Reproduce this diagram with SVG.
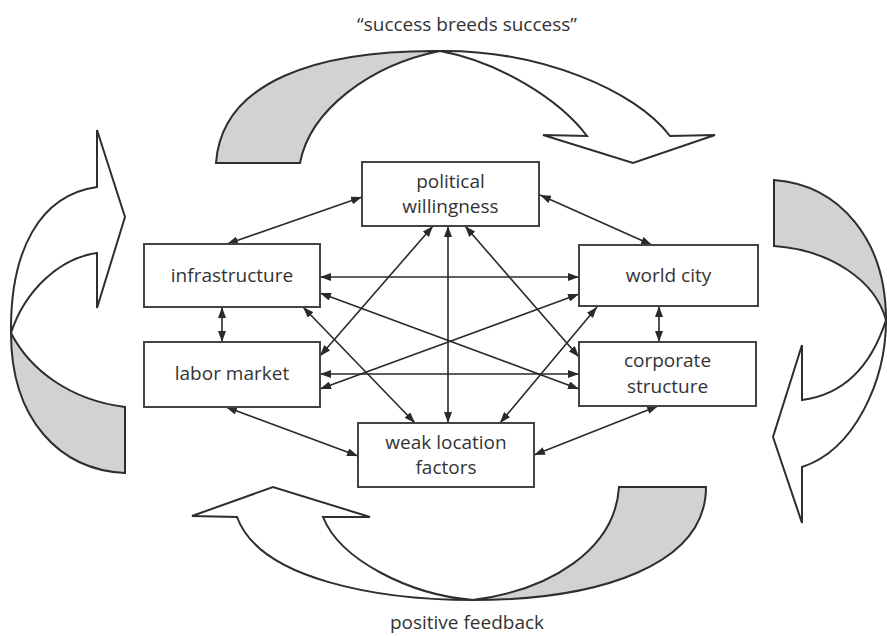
<svg xmlns="http://www.w3.org/2000/svg" width="887" height="636" viewBox="0 0 887 636">
  <style>
    .bg { fill: #ffffff; }
    .box { fill: #ffffff; stroke: #444444; stroke-width: 2; }
    .lbl { font-family: "Open Sans", "Liberation Sans", sans-serif; font-size: 19px; fill: #333333; text-anchor: middle; }
    .link { stroke: #2a2a2a; stroke-width: 1.6; fill: none; marker-start: url(#head); marker-end: url(#head); }
    .band-back { fill: #d2d2d2; stroke: #2e2e2e; stroke-width: 2; stroke-linejoin: miter; }
    .band-front { fill: #ffffff; stroke: #2e2e2e; stroke-width: 2; stroke-linejoin: miter; }
  </style>
  <defs>
    <marker id="head" markerUnits="userSpaceOnUse" markerWidth="11" markerHeight="8" refX="11" refY="4" orient="auto-start-reverse">
      <path d="M0,0 L11,4 L0,8 Z" fill="#2a2a2a"/>
    </marker>
  </defs>

  <rect class="bg" x="0" y="0" width="887" height="636"/>

  <!-- circular feedback arrows around the network -->
  <g id="cycle-top">
    <path class="band-back" d="M216,163 C222,80 320,50 440,51 C370,65 310,110 300,163 Z"/>
    <path class="band-front" d="M440,51 C540,50 635,90 670,136 L715,135 L633,163 L543,135 L587,136 C560,100 500,62 440,51 Z"/>
  </g>
  <g id="cycle-right">
    <path class="band-back" d="M774,180 C840,185 886,240 886,320 C875,280 830,250 774,246 Z"/>
    <path class="band-front" d="M886,320 C886,380 855,450 802,467 L802,523 L773,437 L802,345 L802,400 C840,395 870,370 886,320 Z"/>
  </g>
  <g id="cycle-bottom">
    <path class="band-back" d="M706,487 C706,565 600,600 473,600 C550,590 615,550 619,487 Z"/>
    <path class="band-front" d="M473,600 C380,600 260,580 237,517 L192,516 L273,487 L370,517 L323,517 C340,560 410,595 473,600 Z"/>
  </g>
  <g id="cycle-left">
    <path class="band-back" d="M11,333 C11,420 60,470 125,473 L125,407 C70,400 30,370 11,333 Z"/>
    <path class="band-front" d="M97,187 C40,195 10,250 11,333 C25,290 60,258 97,253 L97,308 L125,217 L97,130 Z"/>
  </g>

  <!-- two-way links between every pair of factors -->
  <g id="connectors">
    <line class="link" x1="362" y1="197" x2="227" y2="244"/>
    <line class="link" x1="540" y1="195" x2="652" y2="245"/>
    <line class="link" x1="320" y1="277" x2="579" y2="277"/>
    <line class="link" x1="222" y1="307" x2="222" y2="342"/>
    <line class="link" x1="659" y1="306" x2="659" y2="342"/>
    <line class="link" x1="320" y1="374" x2="579" y2="374"/>
    <line class="link" x1="579" y1="294" x2="320" y2="389"/>
    <line class="link" x1="320" y1="293" x2="579" y2="389"/>
    <line class="link" x1="433" y1="226" x2="320" y2="356"/>
    <line class="link" x1="465" y1="226" x2="579" y2="357"/>
    <line class="link" x1="448" y1="226" x2="448" y2="423"/>
    <line class="link" x1="303" y1="307" x2="415" y2="423"/>
    <line class="link" x1="597" y1="307" x2="500" y2="423"/>
    <line class="link" x1="226" y1="407" x2="358" y2="456"/>
    <line class="link" x1="658" y1="406" x2="534" y2="455"/>
  </g>

  <g id="political-willingness">
    <rect class="box" x="362" y="162" width="177" height="64"/>
    <text class="lbl" x="450.5" y="188">political</text>
    <text class="lbl" x="450.5" y="213">willingness</text>
  </g>
  <g id="infrastructure">
    <rect class="box" x="144" y="244" width="176" height="63"/>
    <text class="lbl" x="232" y="282">infrastructure</text>
  </g>
  <g id="world-city">
    <rect class="box" x="579" y="245" width="179" height="61"/>
    <text class="lbl" x="668.5" y="282">world city</text>
  </g>
  <g id="labor-market">
    <rect class="box" x="144" y="342" width="176" height="65"/>
    <text class="lbl" x="232" y="380">labor market</text>
  </g>
  <g id="corporate-structure">
    <rect class="box" x="579" y="342" width="177" height="64"/>
    <text class="lbl" x="667.5" y="367">corporate</text>
    <text class="lbl" x="667.5" y="393">structure</text>
  </g>
  <g id="weak-location-factors">
    <rect class="box" x="358" y="423" width="176" height="64"/>
    <text class="lbl" x="446" y="449">weak location</text>
    <text class="lbl" x="446" y="474">factors</text>
  </g>

  <text class="lbl" x="467" y="31">“success breeds success”</text>
  <text class="lbl" x="467" y="629">positive feedback</text>
</svg>
